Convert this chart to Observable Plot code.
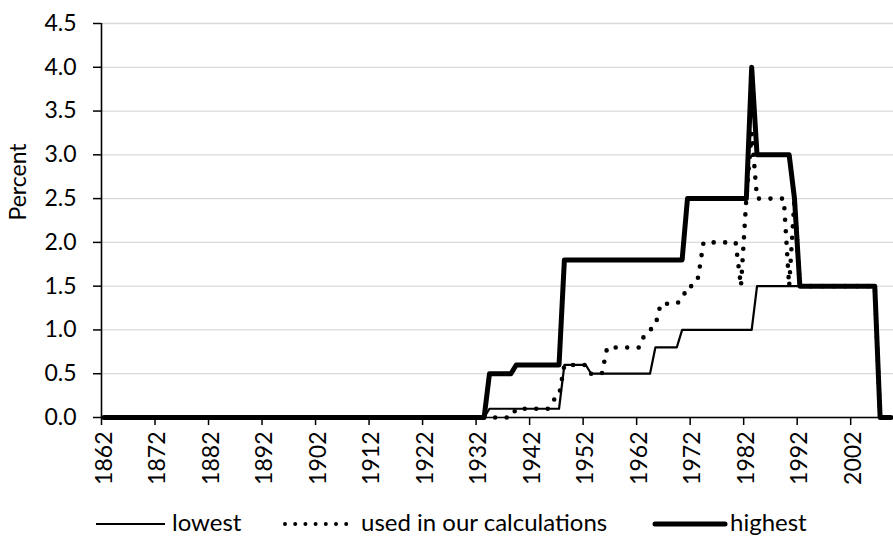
<!DOCTYPE html>
<html><head><meta charset="utf-8">
<script src="https://cdn.jsdelivr.net/npm/d3@7"></script>
<script src="https://cdn.jsdelivr.net/npm/@observablehq/plot@0.6"></script>
<style>
body{margin:0;background:#fff;}
#wrap{position:relative;width:893px;height:540px;overflow:hidden;}
#wrap svg{position:absolute;left:0;top:0;}
</style></head><body><div id="wrap"></div>
<script>
// ---- data (vertices of each yearly series) ----
const lowestYears  = [1862, 1933, 1934, 1947, 1948, 1952, 1953, 1964, 1965, 1969, 1970, 1983, 1984, 2006, 2007, 2009];
const lowestValues = [0,    0,    0.1,  0.1,  0.6,  0.6,  0.5,  0.5,  0.8,  0.8,  1.0,  1.0,  1.5,  1.5,  0,    0];

const usedYears  = [1862, 1938, 1939, 1945, 1946, 1947, 1948, 1952, 1953, 1955, 1956, 1962, 1963, 1964, 1965, 1966, 1969, 1970, 1971, 1972, 1973, 1974, 1980, 1981, 1982, 1983, 1984, 1989, 1990, 1991, 1992, 2006, 2007, 2009];
const usedValues = [0,    0,    0.1,  0.1,  0.2,  0.25, 0.6,  0.6,  0.5,  0.5,  0.8,  0.8,  0.95, 1.0,  1.05, 1.3,  1.3,  1.35, 1.5,  1.5,  1.6,  2.0,  2.0,  1.5,  2.5,  3.25, 2.5,  2.5,  1.5,  2.5,  1.5,  1.5,  0,    0];

const highestYears  = [1862, 1933, 1934, 1938, 1939, 1947, 1948, 1970, 1971, 1982, 1983, 1984, 1990, 1991, 1992, 2006, 2007, 2009];
const highestValues = [0,    0,    0.5,  0.5,  0.6,  0.6,  1.8,  1.8,  2.5,  2.5,  4.0,  3.0,  3.0,  2.5,  1.5,  1.5,  0,    0];

const firstYear = 1862, lastYear = 2009;
const tickYears = [1862, 1872, 1882, 1892, 1902, 1912, 1922, 1932, 1942, 1952, 1962, 1972, 1982, 1992, 2002];
const percentTicks = [0, 0.5, 1, 1.5, 2, 2.5, 3, 3.5, 4, 4.5];
const seriesNames = ["lowest", "used in our calculations", "highest"];

const rows = (ys, vs) => ys.map((y, i) => ({year: y, value: vs[i]}));
const lowest = rows(lowestYears, lowestValues);
const used = rows(usedYears, usedValues);
const highest = rows(highestYears, highestValues);

const FONT = "Lato, 'Open Sans', sans-serif";

const chart = Plot.plot({
  width: 893, height: 540,
  marginLeft: 101, marginRight: 0, marginTop: 23, marginBottom: 123,
  style: {fontFamily: FONT, fontSize: "23px", color: "#000", background: "transparent", overflow: "visible"},
  x: {domain: [firstYear - 0.5, lastYear + 0.5], axis: null},
  y: {domain: [0, 4.5], axis: null},
  marks: [
    Plot.gridY(percentTicks, {stroke: "#d9d9d9", strokeOpacity: 1, strokeWidth: 1.3}),
    Plot.axisY(percentTicks, {tickSize: 8, tickPadding: 17, tickFormat: d => d.toFixed(1), label: null, strokeWidth: 1.5, fontSize: 23}),
    Plot.axisX(tickYears.map(d => d - 0.5), {tickSize: 8, tickFormat: () => "", label: null, strokeWidth: 1.5}),
    Plot.axisX(tickYears, {tickSize: 0, tickPadding: 14, tickRotate: -90, tickFormat: d => String(d), label: null, fontSize: 23}),
    Plot.ruleX([firstYear - 0.5], {stroke: "#000", strokeWidth: 1.6}),
    Plot.ruleY([0], {stroke: "#000", strokeWidth: 1.6}),
    Plot.line(lowest, {x: "year", y: "value", stroke: "#000", strokeWidth: 2.2, strokeLinejoin: "round"}),
    Plot.line(used, {x: "year", y: "value", stroke: "#000", strokeWidth: 4.6, strokeDasharray: "0 11.5", strokeLinecap: "round", strokeLinejoin: "round"}),
    Plot.line(highest, {x: "year", y: "value", stroke: "#000", strokeWidth: 5, strokeLinejoin: "round"}),
    Plot.text(["Percent"], {frameAnchor: "left", dx: -83, rotate: -90, fontSize: 23, fill: "#000"})
  ]
});
document.getElementById("wrap").appendChild(chart);

// ---- legend below the plot ----
const leg = d3.select("#wrap").append("svg").attr("width", 893).attr("height", 540)
  .style("font-family", FONT).style("font-size", "24px");
const ly = 524, lb = 531;
leg.append("line").attr("x1", 96).attr("x2", 165).attr("y1", ly).attr("y2", ly).attr("stroke", "#000").attr("stroke-width", 2.2);
leg.append("text").attr("x", 172).attr("y", lb).text(seriesNames[0]);
leg.append("line").attr("x1", 285).attr("x2", 347).attr("y1", ly).attr("y2", ly).attr("stroke", "#000")
  .attr("stroke-width", 4).attr("stroke-dasharray", "0 10.2").attr("stroke-linecap", "round");
leg.append("text").attr("x", 361).attr("y", lb).text(seriesNames[1]);
leg.append("line").attr("x1", 655).attr("x2", 725).attr("y1", ly).attr("y2", ly).attr("stroke", "#000").attr("stroke-width", 5).attr("stroke-linecap", "round");
leg.append("text").attr("x", 730).attr("y", lb).text(seriesNames[2]);
</script></body></html>
